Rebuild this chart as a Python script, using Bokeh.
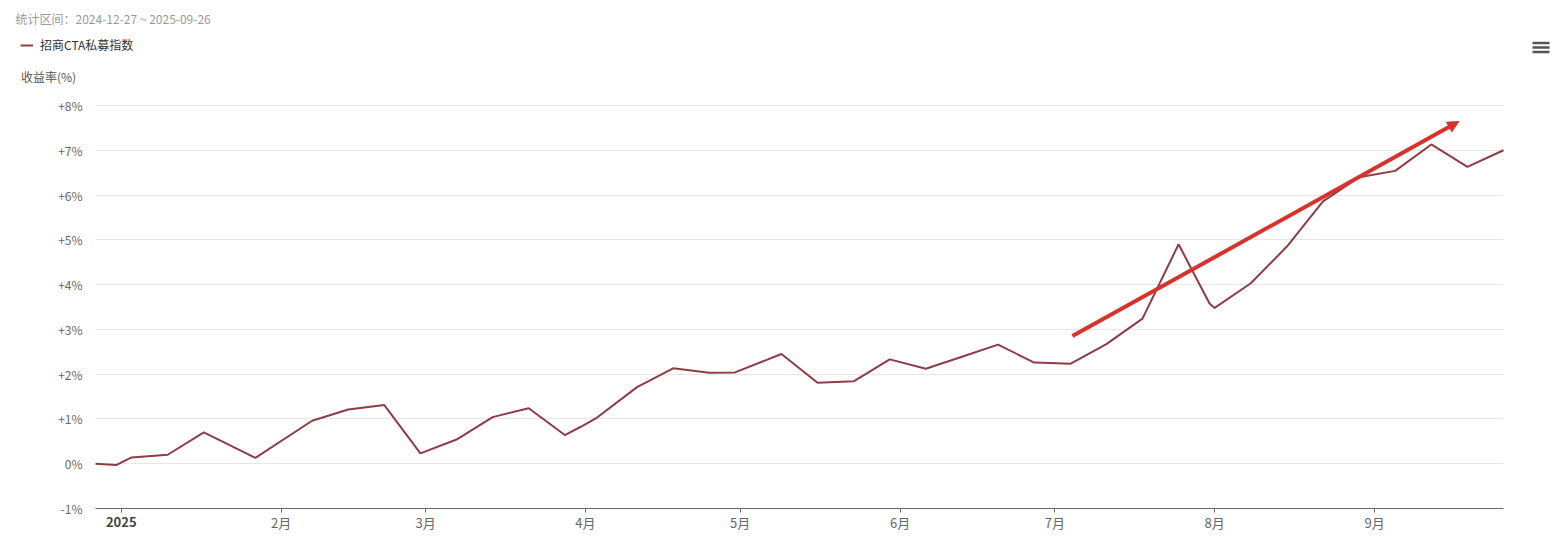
import pandas as pd
from bokeh.plotting import figure
from bokeh.models import (Range1d, FixedTicker, Label, Legend, LegendItem,
                          Arrow, NormalHead, ColumnDataSource)
from bokeh.core.properties import value
from bokeh.embed import file_html
from bokeh.resources import INLINE

# ---------------- data ----------------
dates = ["2024-12-27", "2024-12-31", "2025-01-03", "2025-01-10", "2025-01-17",
         "2025-01-27", "2025-02-07", "2025-02-14", "2025-02-21", "2025-02-28",
         "2025-03-07", "2025-03-14", "2025-03-21", "2025-03-28", "2025-03-31",
         "2025-04-03", "2025-04-11", "2025-04-18", "2025-04-25", "2025-04-30",
         "2025-05-09", "2025-05-16", "2025-05-23", "2025-05-30", "2025-06-06",
         "2025-06-13", "2025-06-20", "2025-06-27", "2025-06-30", "2025-07-04",
         "2025-07-11", "2025-07-18", "2025-07-25", "2025-07-31", "2025-08-01",
         "2025-08-08", "2025-08-15", "2025-08-22", "2025-08-29", "2025-09-05",
         "2025-09-12", "2025-09-19", "2025-09-26"]
returns = [0.00, -0.03, 0.14, 0.20, 0.70,
           0.13, 0.96, 1.21, 1.31, 0.23,
           0.54, 1.04, 1.24, 0.64, 0.82,
           1.01, 1.71, 2.13, 2.03, 2.04,
           2.45, 1.81, 1.84, 2.33, 2.12,
           2.39, 2.66, 2.26, 2.25, 2.23,
           2.67, 3.24, 4.90, 3.58, 3.48,
           4.03, 4.85, 5.86, 6.40, 6.54,
           7.13, 6.63, 7.00]
series_name = "招商CTA私募指数"
title_text = "统计区间：2024-12-27 ~ 2025-09-26"
y_axis_title = "收益率(%)"

y_ticks = [-1, 0, 1, 2, 3, 4, 5, 6, 7, 8]
y_tick_labels = ["-1%", "0%", "+1%", "+2%", "+3%", "+4%", "+5%", "+6%", "+7%", "+8%"]

x_tick_dates = ["2025-01-01", "2025-02-01", "2025-03-01", "2025-04-01", "2025-05-01",
                "2025-06-01", "2025-07-01", "2025-08-01", "2025-09-01"]
x_tick_labels = ["2025", "2月", "3月", "4月", "5月", "6月", "7月", "8月", "9月"]

# trend arrow (annotation)
arrow_dates = ["2025-07-04 10:00", "2025-09-17 08:00"]
arrow_values = [2.85, 7.64]

# ---------------- layout constants (pixels) ----------------
W, H = 1553, 541
PLOT_LEFT, PLOT_RIGHT = 95, 1503      # first / last date
PLOT_TOP, PLOT_BOTTOM = 105, 508      # +8% / -1%

FONT = "Noto Sans CJK SC"
LINE_COLOR = "#8e3c45"
AXIS_COLOR = "#6a6a6a"


def ms(d):
    return float(pd.Timestamp(d).value // 10**6)


# ranges chosen so that the data area lands on the plot rectangle while the
# frame itself covers the whole canvas (axes are pinned with fixed_location)
x0, x1 = ms(dates[0]), ms(dates[-1])
kx = (PLOT_RIGHT - PLOT_LEFT) / (x1 - x0)
x_range = Range1d(x0 - PLOT_LEFT / kx, x1 + (W - PLOT_RIGHT) / kx)
y0, y1 = y_ticks[0], y_ticks[-1]
ky = (PLOT_BOTTOM - PLOT_TOP) / (y1 - y0)
y_range = Range1d(y0 - (H - PLOT_BOTTOM) / ky, y1 + PLOT_TOP / ky)

p = figure(width=W, height=H, x_axis_type="datetime",
           x_range=x_range, y_range=y_range,
           output_backend="svg", toolbar_location=None,
           min_border=0, min_border_left=0, min_border_right=0,
           min_border_top=0, min_border_bottom=0)
p.outline_line_color = None
p.background_fill_color = "white"
p.border_fill_color = "white"

# pixel-space ranges for page furniture (title, icon)
p.extra_x_ranges = {"px": Range1d(0, W)}
p.extra_y_ranges = {"py": Range1d(H, 0)}

# ---------------- series ----------------
src = ColumnDataSource(dict(x=[pd.Timestamp(d) for d in dates], y=returns))
r = p.line("x", "y", source=src, line_color=LINE_COLOR, line_width=2)

# ---------------- grid ----------------
p.xgrid.visible = False
p.ygrid.ticker = FixedTicker(ticks=y_ticks)
p.ygrid.grid_line_color = "#e6e6e6"
p.ygrid.grid_line_width = 1
try:
    p.ygrid.cross_bounds = (x0, x1)
except AttributeError:
    p.ygrid.visible = False
    p.segment(x0=[x0] * len(y_ticks), x1=[x1] * len(y_ticks), y0=y_ticks, y1=y_ticks,
              line_color="#e6e6e6", line_width=1, level="underlay")

# ---------------- y axis ----------------
ya = p.yaxis[0]
ya.fixed_location = x0
ya.bounds = (y0, y1)
ya.ticker = FixedTicker(ticks=y_ticks)
ya.major_label_overrides = {t: l for t, l in zip(y_ticks, y_tick_labels)}
ya.axis_line_color = None
ya.major_tick_line_color = None
ya.minor_tick_line_color = None
ya.major_label_standoff = 7
ya.major_label_text_font = FONT
ya.major_label_text_font_size = "12px"
ya.major_label_text_color = "#666666"

# ---------------- x axis ----------------
xa = p.xaxis[0]
xa.fixed_location = y0
xa.bounds = (x0, x1)
x_ticks = [ms(d) for d in x_tick_dates]
xa.ticker = FixedTicker(ticks=x_ticks)
xa.major_label_overrides = {t: ("" if l == "2025" else l) for t, l in zip(x_ticks, x_tick_labels)}
xa.axis_line_color = AXIS_COLOR
xa.axis_line_width = 1
xa.major_tick_line_color = AXIS_COLOR
xa.major_tick_in = 0
xa.major_tick_out = 4
xa.minor_tick_line_color = None
xa.major_label_standoff = 0
xa.major_label_text_font = FONT
xa.major_label_text_font_size = "13px"
xa.major_label_text_color = "#666666"

# bold year label under the first tick
p.add_layout(Label(x=x_ticks[0], y=y0, y_offset=-13,
                   text=x_tick_labels[0], text_font=FONT, text_font_size="13px",
                   text_font_style="bold", text_color="#444444",
                   text_align="center", text_baseline="middle"))

# ---------------- header texts ----------------
p.text(x=[15], y=[17.5], text=[title_text], x_range_name="px", y_range_name="py",
       text_font=value(FONT), text_font_size="12px", text_color="#9a9a9a",
       text_align="left", text_baseline="middle")
p.text(x=[20.5], y=[76], text=[y_axis_title], x_range_name="px", y_range_name="py",
       text_font=value(FONT), text_font_size="12px", text_color="#555555",
       text_align="left", text_baseline="middle")

legend = Legend(items=[LegendItem(label=series_name, renderers=[r])],
                location=(20, H - 53), orientation="horizontal",
                border_line_alpha=0, background_fill_alpha=0,
                label_text_font=FONT, label_text_font_size="12px",
                label_text_color="#333333", glyph_width=13, glyph_height=14,
                label_height=14, label_standoff=7, padding=0, margin=0, spacing=0)
p.add_layout(legend, "center")

# menu icon
p.hbar(y=[42.5, 47.0, 51.5], left=1532, right=1549, height=2.4,
       x_range_name="px", y_range_name="py",
       fill_color="#555555", line_color=None)

# ---------------- trend arrow ----------------
p.add_layout(Arrow(x_start=ms(arrow_dates[0]), y_start=arrow_values[0],
                   x_end=ms(arrow_dates[1]), y_end=arrow_values[1],
                   line_color="#d8322a", line_width=4,
                   end=NormalHead(size=11, fill_color="#d8322a", line_color="#d8322a")))

open("out.html", "w").write(file_html(p, INLINE))
